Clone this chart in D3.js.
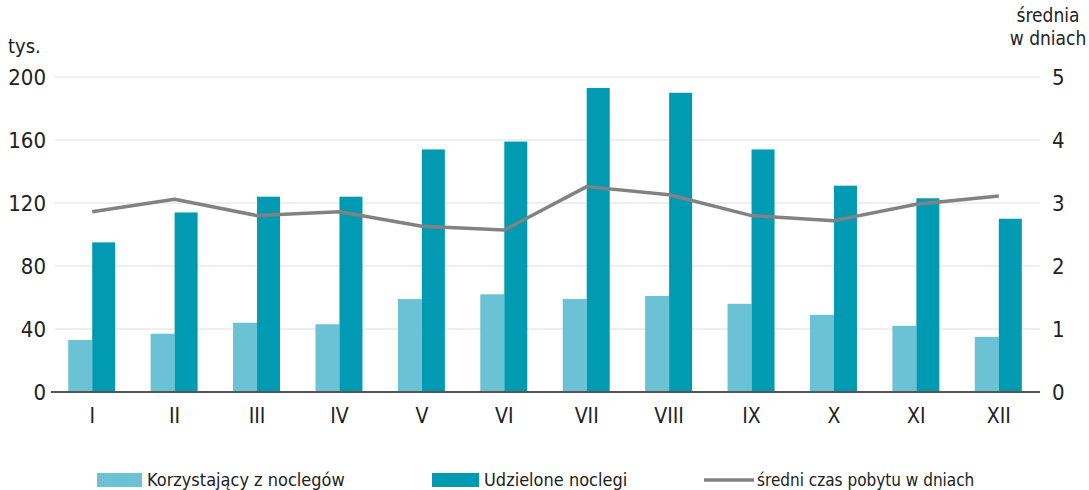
<!DOCTYPE html>
<html>
<head>
<meta charset="utf-8">
<style>
    body { margin: 0; background: #fff; }
    svg text { font-family: "DejaVu Sans Condensed", "Liberation Sans Narrow", sans-serif; fill: #222; }
    .grid line { stroke: #dedede; stroke-width: 1; }
</style>
<script src="https://d3js.org/d3.v7.min.js"></script>
</head>
<body>
<script>
    const months = ['I', 'II', 'III', 'IV', 'V', 'VI', 'VII', 'VIII', 'IX', 'X', 'XI', 'XII'];
    const korzystajacy = [33, 37, 44, 43, 59, 62, 59, 61, 56, 49, 42, 35];
    const udzielone = [95, 114, 124, 124, 154, 159, 193, 190, 154, 131, 123, 110];
    const sredniCzas = [2.86, 3.06, 2.80, 2.86, 2.63, 2.57, 3.26, 3.13, 2.80, 2.72, 2.98, 3.11];
    const leftTicks = [0, 40, 80, 120, 160, 200];
    const rightTicks = [0, 1, 2, 3, 4, 5];

    const width = 1089, height = 490;
    const margin = { left: 51, right: 49, top: 77, bottom: 98 };
    const lightColor = '#6bc2d4', darkColor = '#009bb3', lineColor = '#828282';

    const svg = d3.select('body').append('svg')
        .attr('width', width)
        .attr('height', height);

    const x = d3.scaleBand()
        .domain(months)
        .range([margin.left, width - margin.right]);
    const y = d3.scaleLinear()
        .domain([0, 200])
        .range([height - margin.bottom, margin.top]);
    const y2 = d3.scaleLinear()
        .domain([0, 5])
        .range([height - margin.bottom, margin.top]);

    // gridlines
    svg.append('g').attr('class', 'grid')
        .selectAll('line')
        .data(leftTicks.slice(1))
        .join('line')
        .attr('x1', margin.left + 4)
        .attr('x2', width - margin.right)
        .attr('y1', d => y(d))
        .attr('y2', d => y(d));

    // left axis labels
    svg.append('g')
        .selectAll('text')
        .data(leftTicks)
        .join('text')
        .attr('x', 46)
        .attr('y', d => y(d))
        .attr('dy', '0.36em')
        .attr('text-anchor', 'end')
        .style('font-size', '22px')
        .text(d => d);

    // right axis labels
    svg.append('g')
        .selectAll('text')
        .data(rightTicks)
        .join('text')
        .attr('x', 1052)
        .attr('y', d => y2(d))
        .attr('dy', '0.36em')
        .attr('text-anchor', 'start')
        .style('font-size', '22px')
        .text(d => d);

    svg.append('text').attr('x', 8).attr('y', 53)
        .style('font-size', '20px').text('tys.');
    svg.append('text').attr('x', 1048).attr('y', 22)
        .attr('text-anchor', 'middle')
        .style('font-size', '19px').text('średnia');
    svg.append('text').attr('x', 1048).attr('y', 45)
        .attr('text-anchor', 'middle')
        .style('font-size', '19px').text('w dniach');

    const barW = 23;
    const cx = m => x(m) + x.bandwidth() / 2;

    svg.append('g')
        .selectAll('rect')
        .data(korzystajacy)
        .join('rect')
        .attr('x', (d, i) => cx(months[i]) - barW - 1)
        .attr('width', barW + 1)
        .attr('y', d => y(d))
        .attr('height', d => y(0) - y(d))
        .attr('fill', lightColor);

    svg.append('g')
        .selectAll('rect')
        .data(udzielone)
        .join('rect')
        .attr('x', (d, i) => cx(months[i]))
        .attr('width', barW)
        .attr('y', d => y(d))
        .attr('height', d => y(0) - y(d))
        .attr('fill', darkColor);

    // x axis line
    svg.append('line')
        .attr('x1', margin.left)
        .attr('x2', width - margin.right)
        .attr('y1', y(0))
        .attr('y2', y(0))
        .attr('stroke', '#555')
        .attr('stroke-width', 2);

    // month labels
    svg.append('g')
        .selectAll('text')
        .data(months)
        .join('text')
        .attr('x', d => cx(d))
        .attr('y', 415)
        .attr('dy', '0.36em')
        .attr('text-anchor', 'middle')
        .style('font-size', '21px')
        .text(d => d);

    // line
    const line = d3.line()
        .x((d, i) => cx(months[i]))
        .y(d => y2(d));
    svg.append('path')
        .datum(sredniCzas)
        .attr('d', line)
        .attr('fill', 'none')
        .attr('stroke', lineColor)
        .attr('stroke-width', 3.5)
        .attr('stroke-linejoin', 'round');

    // legend
    const legend = svg.append('g');
    const ly = 480;
    legend.append('rect').attr('x', 97).attr('y', ly - 7).attr('width', 45).attr('height', 14).attr('fill', lightColor);
    legend.append('text').attr('x', 147).attr('y', ly).attr('dy', '0.36em').style('font-size', '18px').text('Korzystający z noclegów');
    legend.append('rect').attr('x', 432).attr('y', ly - 7).attr('width', 47).attr('height', 14).attr('fill', darkColor);
    legend.append('text').attr('x', 484).attr('y', ly).attr('dy', '0.36em').style('font-size', '18px').text('Udzielone noclegi');
    legend.append('line').attr('x1', 704).attr('x2', 754).attr('y1', ly).attr('y2', ly).attr('stroke', lineColor).attr('stroke-width', 3.5);
    legend.append('text').attr('x', 757).attr('y', ly).attr('dy', '0.36em').style('font-size', '17px').text('średni czas pobytu w dniach');
</script>
</body>
</html>
